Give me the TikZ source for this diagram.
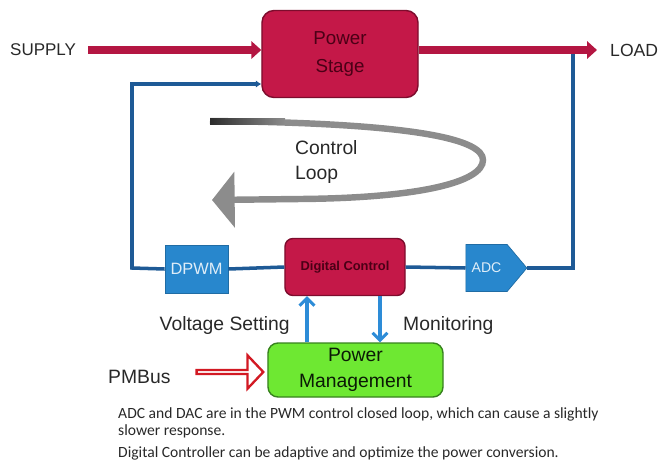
\documentclass[tikz,border=0pt]{standalone}
\usepackage{fontspec}
\setmainfont{Liberation Sans}
\newfontfamily\notefont{Carlito}
\usepackage{tikz}
\usetikzlibrary{arrows.meta,shapes.symbols,shapes.arrows,calc,positioning}
\definecolor{crimson}{RGB}{196,24,72}
\definecolor{crimsonedge}{RGB}{125,12,45}
\definecolor{crimsontext}{RGB}{75,0,22}
\definecolor{lineblue}{RGB}{30,90,150}
\definecolor{boxblue}{RGB}{40,135,205}
\definecolor{arrowblue}{RGB}{45,140,215}
\definecolor{pmgreen}{RGB}{110,232,50}
\definecolor{pmedge}{RGB}{55,130,30}
\definecolor{busred}{RGB}{210,25,35}
\definecolor{loopgray}{RGB}{140,140,140}
\definecolor{txt}{RGB}{40,40,40}
\newcommand{\lblfont}{\fontsize{16.5}{21}\selectfont}

\begin{document}
\begin{tikzpicture}[x=0.03cm, y=-0.03cm,
  redbox/.style={draw=crimsonedge, line width=1.2pt, fill=crimson, text=crimsontext},
  bluebox/.style={fill=boxblue, draw=boxblue!80!black, line width=0.6pt, text=white!85!boxblue, font=\fontsize{14}{16}\selectfont},
  lbl/.style={text=txt, font=\lblfont, inner sep=0pt},
  power/.style={line width=6.5pt, draw=crimson!92!black, -{Triangle[length=0.3cm, width=0.52cm]}},
  fb/.style={line width=3pt, draw=lineblue},
  pmarrow/.style={line width=2.6pt, draw=arrowblue, -{Straight Barb[length=0.22cm, width=0.45cm]}}]
\useasboundingbox (0,0) rectangle (663,464);

% blocks
\draw(340,54) node[redbox, minimum width=4.68cm, minimum height=2.61cm, rounded corners=0.36cm, align=center, font=\fontsize{16}{24}\selectfont] (PS) {Power\\Stage};
\draw(196.5,269) node[bluebox, minimum width=1.89cm, minimum height=1.44cm] (DPWM) {DPWM};
\draw(345,267) node[redbox, minimum width=3.6cm, minimum height=1.71cm, rounded corners=0.24cm, font=\fontsize{11}{13}\bfseries] (DC) {Digital Control};
\draw(486.5,268) node[bluebox, signal, signal to=east, signal pointer angle=100, minimum width=1.83cm, minimum height=1.41cm, inner sep=0pt, font=\fontsize{12}{14}\selectfont] (ADC) {ADC};
\draw(355.5,370) node[draw=pmedge, line width=1.2pt, fill=pmgreen, rounded corners=0.3cm, minimum width=5.25cm, minimum height=1.62cm, align=center, text=black!80!pmedge, font=\fontsize{16.5}{22}\selectfont] (PM) {Power\\Management};

% labels
\draw(10,50) node[lbl, anchor=west, font=\fontsize{14.5}{16}\selectfont] (SUP) {SUPPLY};
\draw(610,50) node[lbl, anchor=west, font=\fontsize{15}{16}\selectfont] (LOAD) {LOAD};
\draw(295,162) node[lbl, anchor=west, align=left] (CL) {Control\\Loop};
\draw(108,377) node[lbl, anchor=west] (PMB) {PMBus};
\draw(229,372) node[single arrow, draw=busred, line width=2pt, fill=white, minimum height=2.0cm, minimum width=1.0cm, single arrow head extend=0.25cm, single arrow tip angle=93, inner sep=0pt] (BUS) {};

% control loop
\draw[loopgray, line width=5.5pt, -{Triangle[length=0.68cm, width=1.65cm]}] (210,121) .. controls (420,123) and (483,140) .. (483,160) .. controls (483,182) and (420,198) .. (300,199) -- (212,200);
\shade[left color=gray!35!black, right color=loopgray] (210,118) rectangle (285,124);

% feedback path
\draw[fb] (DPWM.east) -- (DC.west);
\draw[fb] (DC.east) -- (ADC.west);
\coordinate (J) at (573,50);
\draw[fb] (ADC.east) -| (J);
\draw[fb, -{Latex[length=0.16cm, width=0.22cm]}] (DPWM.west) -- (132,268) |- ($(PS.west)+(0,30)$);

% power path
\draw[power, shorten <=0.36cm] (SUP.east) -- (SUP.east -| PS.west);
\draw[power, shorten >=0.39cm] (PS.east |- SUP) -- (LOAD.west);

% management
\coordinate (VS) at ($(PM.north)+(-48.5,0)$);
\coordinate (MO) at ($(DC.south)+(35,0)$);
\draw[pmarrow] (VS) -- (VS |- DC.south);
\draw[pmarrow] (MO) -- (MO |- PM.north);
\draw(290,325) node[lbl, anchor=east] (VSL) {Voltage Setting};
\draw(403,325) node[lbl, anchor=west] (MOL) {Monitoring};

% note
\draw(118,407) node[anchor=north west, inner sep=0pt, align=left, text=txt, font=\notefont\fontsize{13.3}{14.5}\selectfont] (NOTE) {ADC and DAC are in the PWM control closed loop, which can cause a slightly\\slower response.\\[5pt]Digital Controller can be adaptive and optimize the power conversion.};

\end{tikzpicture}
\end{document}
